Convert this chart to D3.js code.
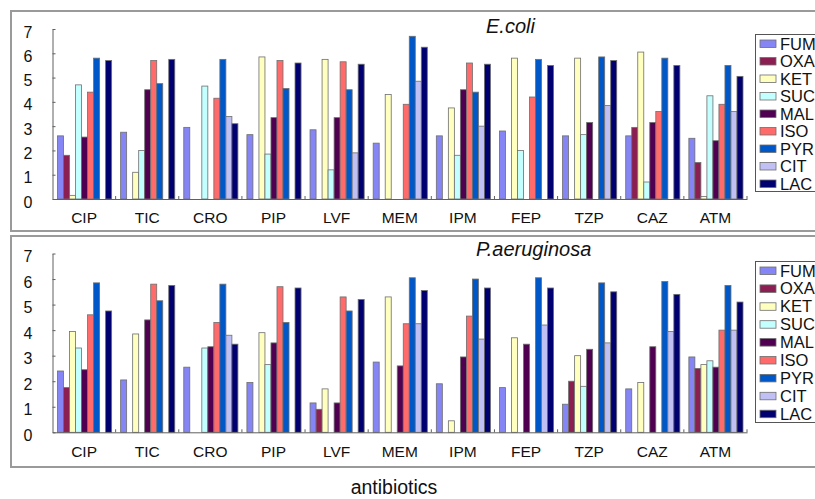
<!DOCTYPE html>
<html>
<head>
<meta charset="utf-8">
<script src="https://cdn.jsdelivr.net/npm/d3@7"></script>
<style>
  body { margin: 0; background: #fff; }
  svg { font-family: "Liberation Sans", Arial, sans-serif; }
</style>
</head>
<body>
<svg id="chart" width="815" height="499"></svg>
<script>
//* Data
const antibiotics = ["CIP", "TIC", "CRO", "PIP", "LVF", "MEM", "IPM", "FEP", "TZP", "CAZ", "ATM"];
const substrates = ["FUM", "OXA", "KET", "SUC", "MAL", "ISO", "PYR", "CIT", "LAC"];
const yTicks = [0, 1, 2, 3, 4, 5, 6, 7];

// one row per antibiotic, values in substrate order
const ecoliValues = [
  [2.6, 1.8, 0.15, 4.7, 2.55, 4.4, 5.8, 0, 5.7],
  [2.75, 0, 1.1, 2.0, 4.5, 5.7, 4.75, 0, 5.75],
  [2.95, 0, 0, 4.65, 0, 4.15, 5.75, 3.4, 3.1],
  [2.65, 0, 5.85, 1.85, 3.35, 5.7, 4.55, 0, 5.6],
  [2.85, 0, 5.75, 1.2, 3.35, 5.65, 4.5, 1.9, 5.55],
  [2.3, 0, 4.3, 0, 0, 3.9, 6.7, 4.85, 6.25],
  [2.6, 0, 3.75, 1.8, 4.5, 5.6, 4.4, 3.0, 5.55],
  [2.8, 0, 5.8, 2.0, 0, 4.2, 5.75, 0, 5.5],
  [2.6, 0, 5.8, 2.65, 3.15, 0, 5.85, 3.85, 5.7],
  [2.6, 2.95, 6.05, 0.7, 3.15, 3.6, 5.8, 0, 5.5],
  [2.5, 1.5, 0.1, 4.25, 2.4, 3.9, 5.5, 3.6, 5.05]
];

const paeruginosaValues = [
  [2.4, 1.75, 3.95, 3.3, 2.45, 4.6, 5.85, 0, 4.75],
  [2.05, 0, 3.85, 0, 4.4, 5.8, 5.15, 0, 5.75],
  [2.55, 0, 0, 3.3, 3.35, 4.3, 5.8, 3.8, 3.45],
  [1.95, 0, 3.9, 2.65, 3.5, 5.7, 4.3, 0, 5.65],
  [1.15, 0.9, 1.7, 0, 1.15, 5.3, 4.75, 0, 5.2],
  [2.75, 0, 5.3, 0, 2.6, 4.25, 6.05, 4.25, 5.55],
  [1.9, 0, 0.45, 0, 2.95, 4.55, 6.0, 3.65, 5.65],
  [1.75, 0, 3.7, 0, 3.45, 0, 6.05, 4.2, 5.65],
  [1.1, 2.0, 3.0, 1.8, 3.25, 0, 5.85, 3.5, 5.5],
  [1.7, 0, 1.95, 0, 3.35, 0, 5.9, 3.95, 5.4],
  [2.95, 2.5, 2.65, 2.8, 2.55, 4.0, 5.75, 4.0, 5.1]
];

const colors = ["#8585f5", "#8b1f52", "#ffffc0", "#c4ffff", "#500050", "#ff6b6b", "#0058c8", "#c0c0f5", "#000070"];

//* Chart
const svg = d3.select("#chart");
const color = d3.scaleOrdinal().domain(substrates).range(colors);

const panels = [
  { title: "E.coli", values: ecoliValues, box: [11, 11, 220], y0: 199, y7: 29, titleX: 486, titleY: 33, legendY: 34, legendH: 157, legendStep: 17.5, labelPad: 13 },
  { title: "P.aeruginosa", values: paeruginosaValues, box: [11, 236, 231], y0: 432.3, y7: 253.5, titleX: 476, titleY: 256, legendY: 261, legendH: 161, legendStep: 17.9, labelPad: 14 }
];

const x0 = d3.scaleBand()
  .domain(antibiotics)
  .range([52.5, 747])
  .padding(0);

const x1 = d3.scaleBand()
  .domain(substrates)
  .range([5, x0.bandwidth() - 4])
  .padding(0);

panels.forEach(p => {
  const g = svg.append("g");

  // panel frame
  g.append("rect")
    .attr("x", p.box[0])
    .attr("y", p.box[1])
    .attr("width", 840)
    .attr("height", p.box[2])
    .attr("fill", "none")
    .attr("stroke", "#9a9a9a")
    .attr("stroke-width", 2);

  const y = d3.scaleLinear().domain([0, 7]).range([p.y0, p.y7]);

  // bars
  const rows = g.selectAll(".group")
    .data(antibiotics.map((a, i) => ({ a, vals: p.values[i] })))
    .join("g")
    .attr("class", "group")
    .attr("transform", d => `translate(${x0(d.a)},0)`);

  rows.selectAll("rect")
    .data(d => d.vals.map((v, j) => ({ s: substrates[j], v })).filter(e => e.v > 0))
    .join("rect")
    .attr("x", d => x1(d.s))
    .attr("y", d => y(d.v))
    .attr("width", x1.bandwidth())
    .attr("height", d => y(0) - y(d.v))
    .attr("fill", d => color(d.s))
    .attr("stroke", "#6e6e6e")
    .attr("stroke-width", 0.8);

  // y axis
  const yAxis = g.append("g")
    .attr("transform", `translate(${x0.range()[0]},0)`)
    .call(d3.axisLeft(y).tickValues(yTicks).tickFormat(d3.format("d"))
      .tickSizeInner(-3).tickSizeOuter(0).tickPadding(20));
  yAxis.select(".domain").attr("stroke", "#606060");
  yAxis.selectAll(".tick line").attr("stroke", "#606060");
  yAxis.selectAll("text")
    .attr("font-size", 16)
    .attr("fill", "#111")
    .attr("dy", "0.5em");

  // x axis
  const xAxis = g.append("g")
    .attr("transform", `translate(0,${y(0)})`)
    .call(d3.axisBottom(x0).tickSize(0).tickPadding(p.labelPad));
  xAxis.select(".domain").attr("stroke", "#606060");
  xAxis.selectAll("text")
    .attr("font-size", 15.5)
    .attr("fill", "#111");

  // small category dividers on the x axis
  g.selectAll(".divider")
    .data(antibiotics.slice(1).map(a => x0(a)).concat([x0.range()[1]]))
    .join("line")
    .attr("class", "divider")
    .attr("x1", d => d)
    .attr("x2", d => d)
    .attr("y1", y(0))
    .attr("y2", y(0) - 3)
    .attr("stroke", "#606060");

  // title
  g.append("text")
    .attr("x", p.titleX)
    .attr("y", p.titleY)
    .attr("font-size", 20)
    .attr("font-style", "italic")
    .attr("fill", "#111")
    .text(p.title);

  // legend
  const lg = g.append("g");
  lg.append("rect")
    .attr("x", 755.5)
    .attr("y", p.legendY + 0.5)
    .attr("width", 100)
    .attr("height", p.legendH)
    .attr("fill", "#fff")
    .attr("stroke", "#555");

  const items = lg.selectAll(".item")
    .data(substrates)
    .join("g")
    .attr("class", "item")
    .attr("transform", (d, i) => `translate(760,${p.legendY + 9.5 + i * p.legendStep})`);

  items.append("rect")
    .attr("x", 0)
    .attr("y", -3.5)
    .attr("width", 16)
    .attr("height", 7.5)
    .attr("fill", d => color(d))
    .attr("stroke", "#6e6e6e")
    .attr("stroke-width", 0.8);

  items.append("text")
    .attr("x", 20)
    .attr("y", 6)
    .attr("font-size", 16.5)
    .attr("fill", "#111")
    .text(d => d);
});

svg.append("text")
  .attr("x", 394)
  .attr("y", 494)
  .attr("text-anchor", "middle")
  .attr("font-size", 19.5)
  .attr("fill", "#111")
  .text("antibiotics");
</script>
</body>
</html>
